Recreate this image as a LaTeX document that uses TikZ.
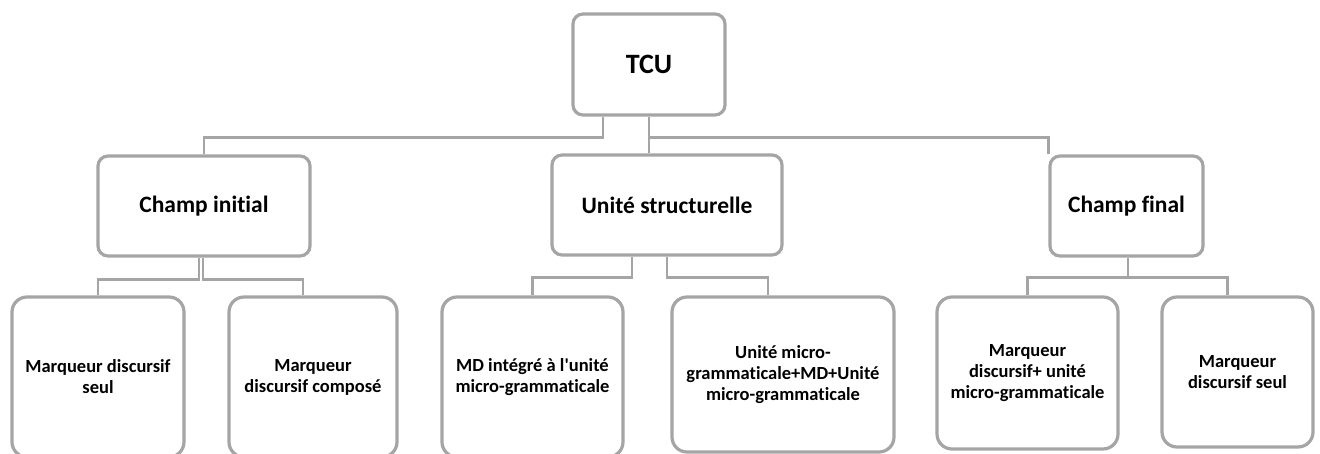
\documentclass[tikz,border=0pt]{standalone}
\usepackage{fontspec}
\setmainfont{Carlito}[Ligatures={NoCommon}]
\definecolor{ln}{HTML}{A5A5A5}
\begin{document}
\begin{tikzpicture}[x=1pt,y=-1pt,
  box/.style={draw=ln,line width=3.2pt,rounded corners=10pt,fill=white,align=center,inner sep=0pt,font=\bfseries},
  topbox/.style={box,font=\bfseries\fontsize{28}{32}\selectfont},
  midbox/.style={box,font=\bfseries\fontsize{23.5}{28}\selectfont},
  lowbox/.style={box,rounded corners=15pt,font=\bfseries\fontsize{18.5}{21}\selectfont},
  conn/.style={draw=ln,line width=2.3pt}]
\useasboundingbox (0,0) rectangle (1320,453);
% level 0
\node[topbox,minimum width=152pt,minimum height=101pt] (tcu) at (649,64.5) {TCU};
% level 1
\node[midbox,minimum width=212pt,minimum height=100pt] (ci) at (204,206) {Champ initial};
\node[midbox,minimum width=230pt,minimum height=100pt] (us) at (667,205) {Unité structurelle};
\node[midbox,minimum width=153pt,minimum height=100pt] (cf) at (1126.5,206) {Champ final};
% level 2
\node[lowbox,minimum width=172pt,minimum height=160pt] (b1) at (98,377) {Marqueur discursif\\seul};
\node[lowbox,minimum width=168pt,minimum height=160pt] (b2) at (313,377) {Marqueur\\discursif composé};
\node[lowbox,minimum width=181pt,minimum height=160pt] (b3) at (532.5,377) {MD intégré à l\textquotesingle unité\\micro-grammaticale};
\node[lowbox,minimum width=222pt,minimum height=155pt] (b4) at (783,374.5) {Unité micro-\\grammaticale+MD+Unité\\micro-grammaticale};
\node[lowbox,minimum width=181pt,minimum height=152pt] (b5) at (1027.5,373) {Marqueur\\discursif+ unité\\micro-grammaticale};
\node[lowbox,minimum width=151pt,minimum height=150pt] (b6) at (1237.5,372) {Marqueur\\discursif seul};
% connectors
\draw[conn] ([xshift=-46pt]tcu.south) -- ++(0,21) -| (ci.north);
\draw[conn] (tcu.south) -- (tcu.south |- us.north);
\coordinate (tj) at ([yshift=-21pt]tcu.south);
\draw[conn] (tj) -| (cf.north west);
\draw[conn] ([xshift=-5pt]ci.south) -- ++(0,22) -| (b1.north);
\draw[conn] ([xshift=-1pt]ci.south) -- ++(0,22) -| ([xshift=-10pt]b2.north);
\draw[conn] ([xshift=-35pt]us.south) -- ++(0,21) -| (b3.north);
\draw[conn] (us.south) -- ++(0,21) -| ([xshift=-15pt]b4.north);
\draw[conn] ([xshift=1.5pt]cf.south) -- ++(0,20) coordinate (cfj) -| (b5.north);
\draw[conn] (cfj) -| ([xshift=-10pt]b6.north);
\end{tikzpicture}
\end{document}
